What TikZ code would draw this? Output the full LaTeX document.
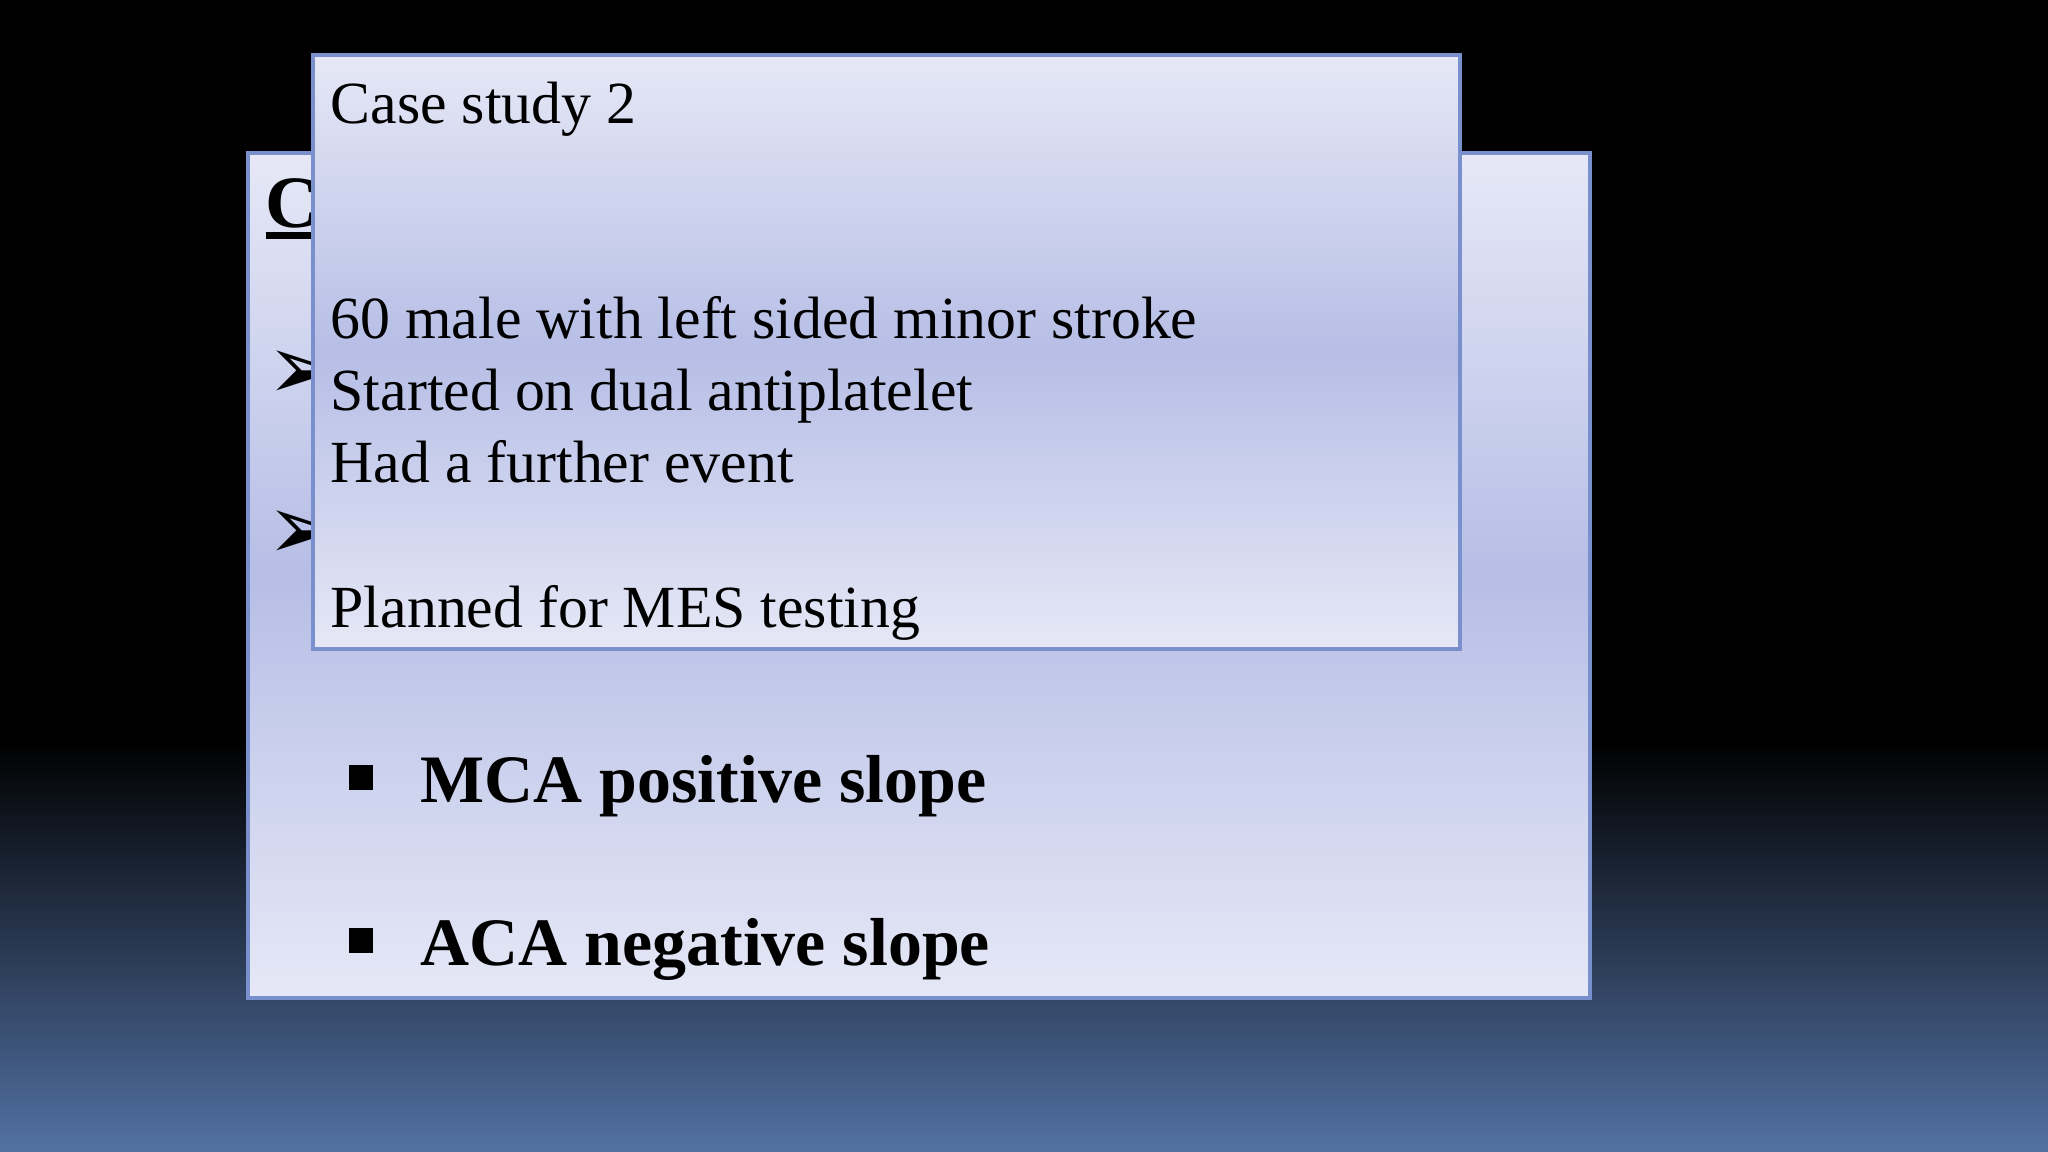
\documentclass[tikz,border=0pt]{standalone}
\usepackage{fontspec}
\setmainfont{Liberation Serif}
\newfontfamily\djv{DejaVu Sans}
\definecolor{bgblue}{HTML}{5271A3}
\definecolor{boxlight}{HTML}{E6E8F6}
\definecolor{boxmid}{HTML}{B6BEE6}
\definecolor{boxedge}{HTML}{7A90CC}
\tikzset{
  panel/.style={draw=boxedge, line width=1.1pt, top color=boxlight, bottom color=boxlight, middle color=boxmid, shading angle=0},
  txt/.style={anchor=base west, inner sep=0pt, font=\fontsize{17}{20}\selectfont},
  bold/.style={anchor=base west, inner sep=0pt, font=\fontsize{19.3}{23}\selectfont\bfseries},
}
\begin{document}
\begin{tikzpicture}[x=0.01cm,y=-0.01cm]
\useasboundingbox (0,0) rectangle (2048,1152);
\shade[top color=black, bottom color=black] (0,0) rectangle (2048,740);
\shade[top color=black, bottom color=bgblue] (0,740) rectangle (2048,1152);
% back panel
\path[panel] (248,153) rectangle (1590,998);
\node[bold, font=\fontsize{21}{25}\selectfont\bfseries] (ct) at (265,228) {\underline{\smash{Case}}};
\draw[line width=1.8pt] (266,236) -- (320,236);
\node[txt, font=\djv\fontsize{26}{28}\selectfont] (a1) at (266,400) {➢};
\node[txt, font=\djv\fontsize{26}{28}\selectfont] (a2) at (266,560) {➢};
\node[txt, font=\fontsize{10}{12}\selectfont] (u) at (456,648) {\rule{12pt}{1.5pt}};
\node[txt, font=\fontsize{14}{14}\selectfont] (b1) at (348,790) {\rule{7pt}{7pt}};
\node[bold] (m1) at (420,802) {MCA positive slope};
\node[txt, font=\fontsize{14}{14}\selectfont] (b2) at (348,953) {\rule{7pt}{7pt}};
\node[bold] (m2) at (420,965) {ACA negative slope};
% front panel
\path[panel] (313,55) rectangle (1460,649);
\node[txt] (t0) at (330,124) {Case study 2};
\node[txt] (t1) at (330,339) {60 male with left sided minor stroke};
\node[txt] (t2) at (330,411) {Started on dual antiplatelet};
\node[txt] (t3) at (330,483) {Had a further event};
\node[txt] (t4) at (330,627) {Planned for MES testing};
\end{tikzpicture}
\end{document}
